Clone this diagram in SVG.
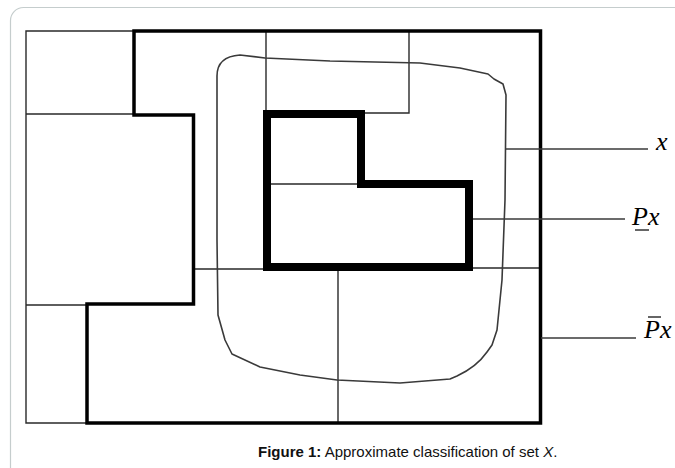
<svg xmlns="http://www.w3.org/2000/svg" width="675" height="468" viewBox="0 0 675 468">
<style>
.thin{fill:none;stroke:#2a2a2a;stroke-width:1.4;stroke-linecap:square}
.outer{fill:none;stroke:#000;stroke-width:3.5;stroke-linejoin:miter}
.inner{fill:none;stroke:#000;stroke-width:8;stroke-linejoin:miter}
.blob{fill:none;stroke:#3a3a3a;stroke-width:1.6;stroke-linejoin:round}
.lead{fill:none;stroke:#3a3a3a;stroke-width:1.6}
.lbl{font-family:"Liberation Serif","Times New Roman",serif;font-style:italic;font-size:26px;fill:#000}
.cap{font-family:"Liberation Sans",Arial,sans-serif;font-size:15px;fill:#111}
</style>
<rect x="10.5" y="7.5" width="720" height="520" rx="13" fill="#fff" stroke="#c5cdcd" stroke-width="1.2"/>
<g id="grid">
<path class="thin" d="M26,31 H134 M26,31 V423 H87 M26,114 H134 M26,305 H87 M266,31 V110 M409,31 V113 H365 M271,184 H361 M193,269 H263 M473,268 H540 M338,271 V423"/>
</g>
<g id="upper-approximation">
<path class="outer" d="M134,31 H540.5 V423 H87 V304 H193.5 V115 H134 Z"/>
</g>
<g id="lower-approximation">
<path class="inner" d="M267,114 H361 V184 H469 V267 H267 Z"/>
</g>
<g id="set-x">
<path class="blob" d="M217,240 L217,76 C217,63 225,56 240,55 L265,58 L330,61 L420,63 L460,68 L488,74 L494,79 L503,84 L506,95 L505,200 L502,280 L497,330 L492,345 L487,352 C480,362 470,370 457,376 L450,379 L400,383 L337,380 L300,375 L260,367 L232,354 L225,340 L218,315 Z"/>
</g>
<g id="connectors">
<line class="lead" x1="505" y1="149" x2="648" y2="149"/>
<line class="lead" x1="473" y1="219" x2="625" y2="219"/>
<line class="lead" x1="541" y1="338" x2="636" y2="338"/>
</g>
<g id="label-x">
<text class="lbl" x="656" y="150">x</text>
</g>
<g id="label-lower">
<text class="lbl" x="632" y="225">Px</text>
<line x1="635" y1="230" x2="649" y2="230" stroke="#000" stroke-width="1.2"/>
</g>
<g id="label-upper">
<text class="lbl" x="644" y="338">Px</text>
<line x1="648" y1="317" x2="661" y2="317" stroke="#000" stroke-width="1.2"/>
</g>
<text class="cap" x="258" y="457"><tspan font-weight="bold">Figure 1:</tspan> Approximate classification of set <tspan font-style="italic">X</tspan>.</text>
</svg>
